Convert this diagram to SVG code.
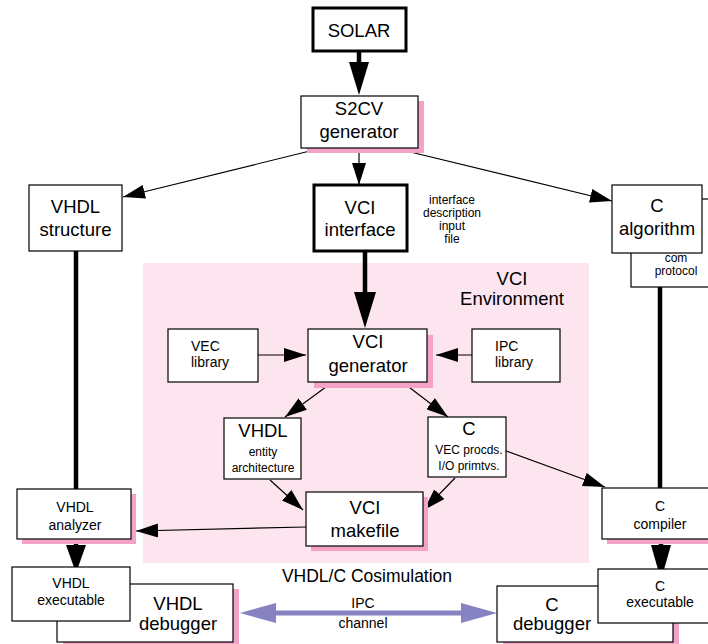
<svg xmlns="http://www.w3.org/2000/svg" width="708" height="644" viewBox="0 0 708 644">
<style>
text{font-family:"Liberation Sans",Arial,sans-serif;fill:#000;text-anchor:middle}
.b{font-size:18.5px}
.s{font-size:14px}
.xs{font-size:12px}
.box{fill:#fff;stroke:#000;stroke-width:1.2}
.thk{fill:#fff;stroke:#000;stroke-width:3}
.sh{fill:#f4a3c7}
.ln{stroke:#000;stroke-width:1.2;fill:none}
.tl{stroke:#000;stroke-width:4.5;fill:none}
.head{fill:#000}
.ipc{fill:#8782c2}
</style>
<defs>
<marker id="ar" markerUnits="userSpaceOnUse" markerWidth="22" markerHeight="14" refX="22" refY="7" orient="auto">
<path d="M0,0 L22,7 L0,14 z" fill="#000"/>
</marker>
</defs>
<rect x="143" y="263" width="446" height="300" fill="#fce5ef"/>
<text class="b" x="512" y="285">VCI</text>
<text class="b" x="512" y="305">Environment</text>
<text x="367" y="582" style="font-size:17.5px">VHDL/C Cosimulation</text>

<g id="connectors">
<line class="tl" x1="359" y1="51" x2="359" y2="64"/>
<polygon class="head" points="349,62 369,62 359,95"/>
<line class="ln" x1="318" y1="149" x2="123" y2="197" marker-end="url(#ar)"/>
<line class="ln" x1="359" y1="148" x2="359" y2="185" marker-end="url(#ar)"/>
<line class="ln" x1="398" y1="149" x2="612" y2="201" marker-end="url(#ar)"/>
<line class="tl" x1="365" y1="251" x2="365" y2="294"/>
<polygon class="head" points="354,292 376,292 365,328"/>
<line class="ln" x1="258" y1="355" x2="306" y2="355" marker-end="url(#ar)"/>
<line class="ln" x1="472" y1="355" x2="436" y2="355" marker-end="url(#ar)"/>
<line class="ln" x1="330" y1="384" x2="285" y2="417" marker-end="url(#ar)"/>
<line class="ln" x1="405" y1="384" x2="448" y2="417" marker-end="url(#ar)"/>
<line class="ln" x1="270" y1="480" x2="303" y2="510" marker-end="url(#ar)"/>
<line class="ln" x1="455" y1="478" x2="424" y2="510" marker-end="url(#ar)"/>
<line class="ln" x1="506" y1="451" x2="605" y2="487" marker-end="url(#ar)"/>
<line class="ln" x1="306" y1="527" x2="136" y2="531" marker-end="url(#ar)"/>
<line class="tl" x1="76" y1="251" x2="76" y2="489"/>
<line class="tl" x1="76" y1="539" x2="76" y2="547"/>
<polygon class="head" points="66,545 86,545 76,573"/>
<line class="tl" x1="660" y1="287" x2="660" y2="488"/>
<line class="tl" x1="661" y1="539" x2="661" y2="547"/>
<polygon class="head" points="651,545 671,545 661,580"/>
<rect class="ipc" x="272" y="610.5" width="193" height="5"/>
<polygon class="ipc" points="240,613 276,603 276,623"/>
<polygon class="ipc" points="497,613 461,603 461,623"/>
<text x="363" y="608" style="font-size:14px">IPC</text>
<text x="363" y="628" style="font-size:14px">channel</text>
</g>

<g id="solar">
<rect class="thk" x="313" y="8" width="93" height="43"/>
<text class="b" x="359" y="37">SOLAR</text>
</g>
<g id="s2cv">
<rect class="sh" x="307" y="101" width="117" height="52"/>
<rect class="box" x="301" y="96" width="117" height="52"/>
<text class="b" x="359" y="115">S2CV</text>
<text class="b" x="359" y="138">generator</text>
</g>
<g id="vhdl-structure">
<rect class="box" x="29" y="185" width="93" height="66"/>
<text class="b" x="75.5" y="213">VHDL</text>
<text class="b" x="75.5" y="236">structure</text>
</g>
<g id="vci-interface">
<rect class="thk" x="314" y="185" width="93" height="66"/>
<text class="b" x="360" y="214">VCI</text>
<text class="b" x="360" y="236">interface</text>
</g>
<g id="interface-label">
<text class="xs" x="452" y="204">interface</text>
<text class="xs" x="452" y="217">description</text>
<text class="xs" x="452" y="230">input</text>
<text class="xs" x="452" y="243">file</text>
</g>
<g id="com-protocol">
<rect class="box" x="631" y="199" width="90" height="88"/>
<text class="xs" x="676" y="262">com</text>
<text class="xs" x="676" y="275">protocol</text>
</g>
<g id="c-algorithm">
<rect class="box" x="612" y="185" width="90" height="68"/>
<text class="b" x="657" y="212">C</text>
<text class="b" x="657" y="235">algorithm</text>
</g>
<g id="vec-library">
<rect class="box" x="168" y="329" width="90" height="53"/>
<text class="s" x="191" y="351" style="text-anchor:start">VEC</text>
<text class="s" x="191" y="367" style="text-anchor:start">library</text>
</g>
<g id="ipc-library">
<rect class="box" x="472" y="329" width="88" height="53"/>
<text class="s" x="495" y="351" style="text-anchor:start">IPC</text>
<text class="s" x="495" y="367" style="text-anchor:start">library</text>
</g>
<g id="vci-generator">
<rect class="sh" x="314" y="335" width="119" height="53"/>
<rect class="box" x="308" y="329" width="119" height="53"/>
<text class="b" x="368" y="348">VCI</text>
<text class="b" x="368" y="372">generator</text>
</g>
<g id="vhdl-entity">
<rect class="box" x="224" y="418" width="77" height="61"/>
<text class="b" x="263" y="437">VHDL</text>
<text class="xs" x="263" y="456">entity</text>
<text class="xs" x="263" y="472">architecture</text>
</g>
<g id="c-vec">
<rect class="box" x="428" y="417" width="78" height="60"/>
<text class="b" x="469" y="435">C</text>
<text class="xs" x="469" y="454">VEC procds.</text>
<text class="xs" x="469" y="470">I/O primtvs.</text>
</g>
<g id="vci-makefile">
<rect class="sh" x="311" y="497" width="117" height="54"/>
<rect class="box" x="306" y="492" width="117" height="54"/>
<text class="b" x="365" y="514">VCI</text>
<text class="b" x="365" y="537">makefile</text>
</g>
<g id="vhdl-analyzer">
<rect class="sh" x="22" y="494" width="114" height="50"/>
<rect class="box" x="17" y="489" width="114" height="50"/>
<text class="s" x="75" y="512">VHDL</text>
<text class="s" x="75" y="530">analyzer</text>
</g>
<g id="c-compiler">
<rect class="sh" x="607" y="493" width="110" height="51"/>
<rect class="box" x="602" y="488" width="110" height="51"/>
<text class="s" x="660" y="511">C</text>
<text class="s" x="660" y="529">compiler</text>
</g>
<g id="vhdl-debugger">
<rect class="sh" x="63" y="589" width="176" height="60"/>
<rect class="box" x="57" y="584" width="176" height="58"/>
<text class="b" x="178" y="610">VHDL</text>
<text class="b" x="178" y="630">debugger</text>
</g>
<g id="vhdl-executable">
<rect class="box" x="12" y="567" width="118" height="54"/>
<text class="s" x="71" y="588">VHDL</text>
<text class="s" x="71" y="605">executable</text>
</g>
<g id="c-debugger">
<rect class="sh" x="503" y="591" width="176" height="58"/>
<rect class="box" x="497" y="586" width="176" height="56"/>
<text class="b" x="552" y="611">C</text>
<text class="b" x="552" y="630">debugger</text>
</g>
<g id="c-executable">
<rect class="box" x="598" y="569" width="115" height="54"/>
<text class="s" x="660" y="591">C</text>
<text class="s" x="660" y="607">executable</text>
</g>
</svg>
